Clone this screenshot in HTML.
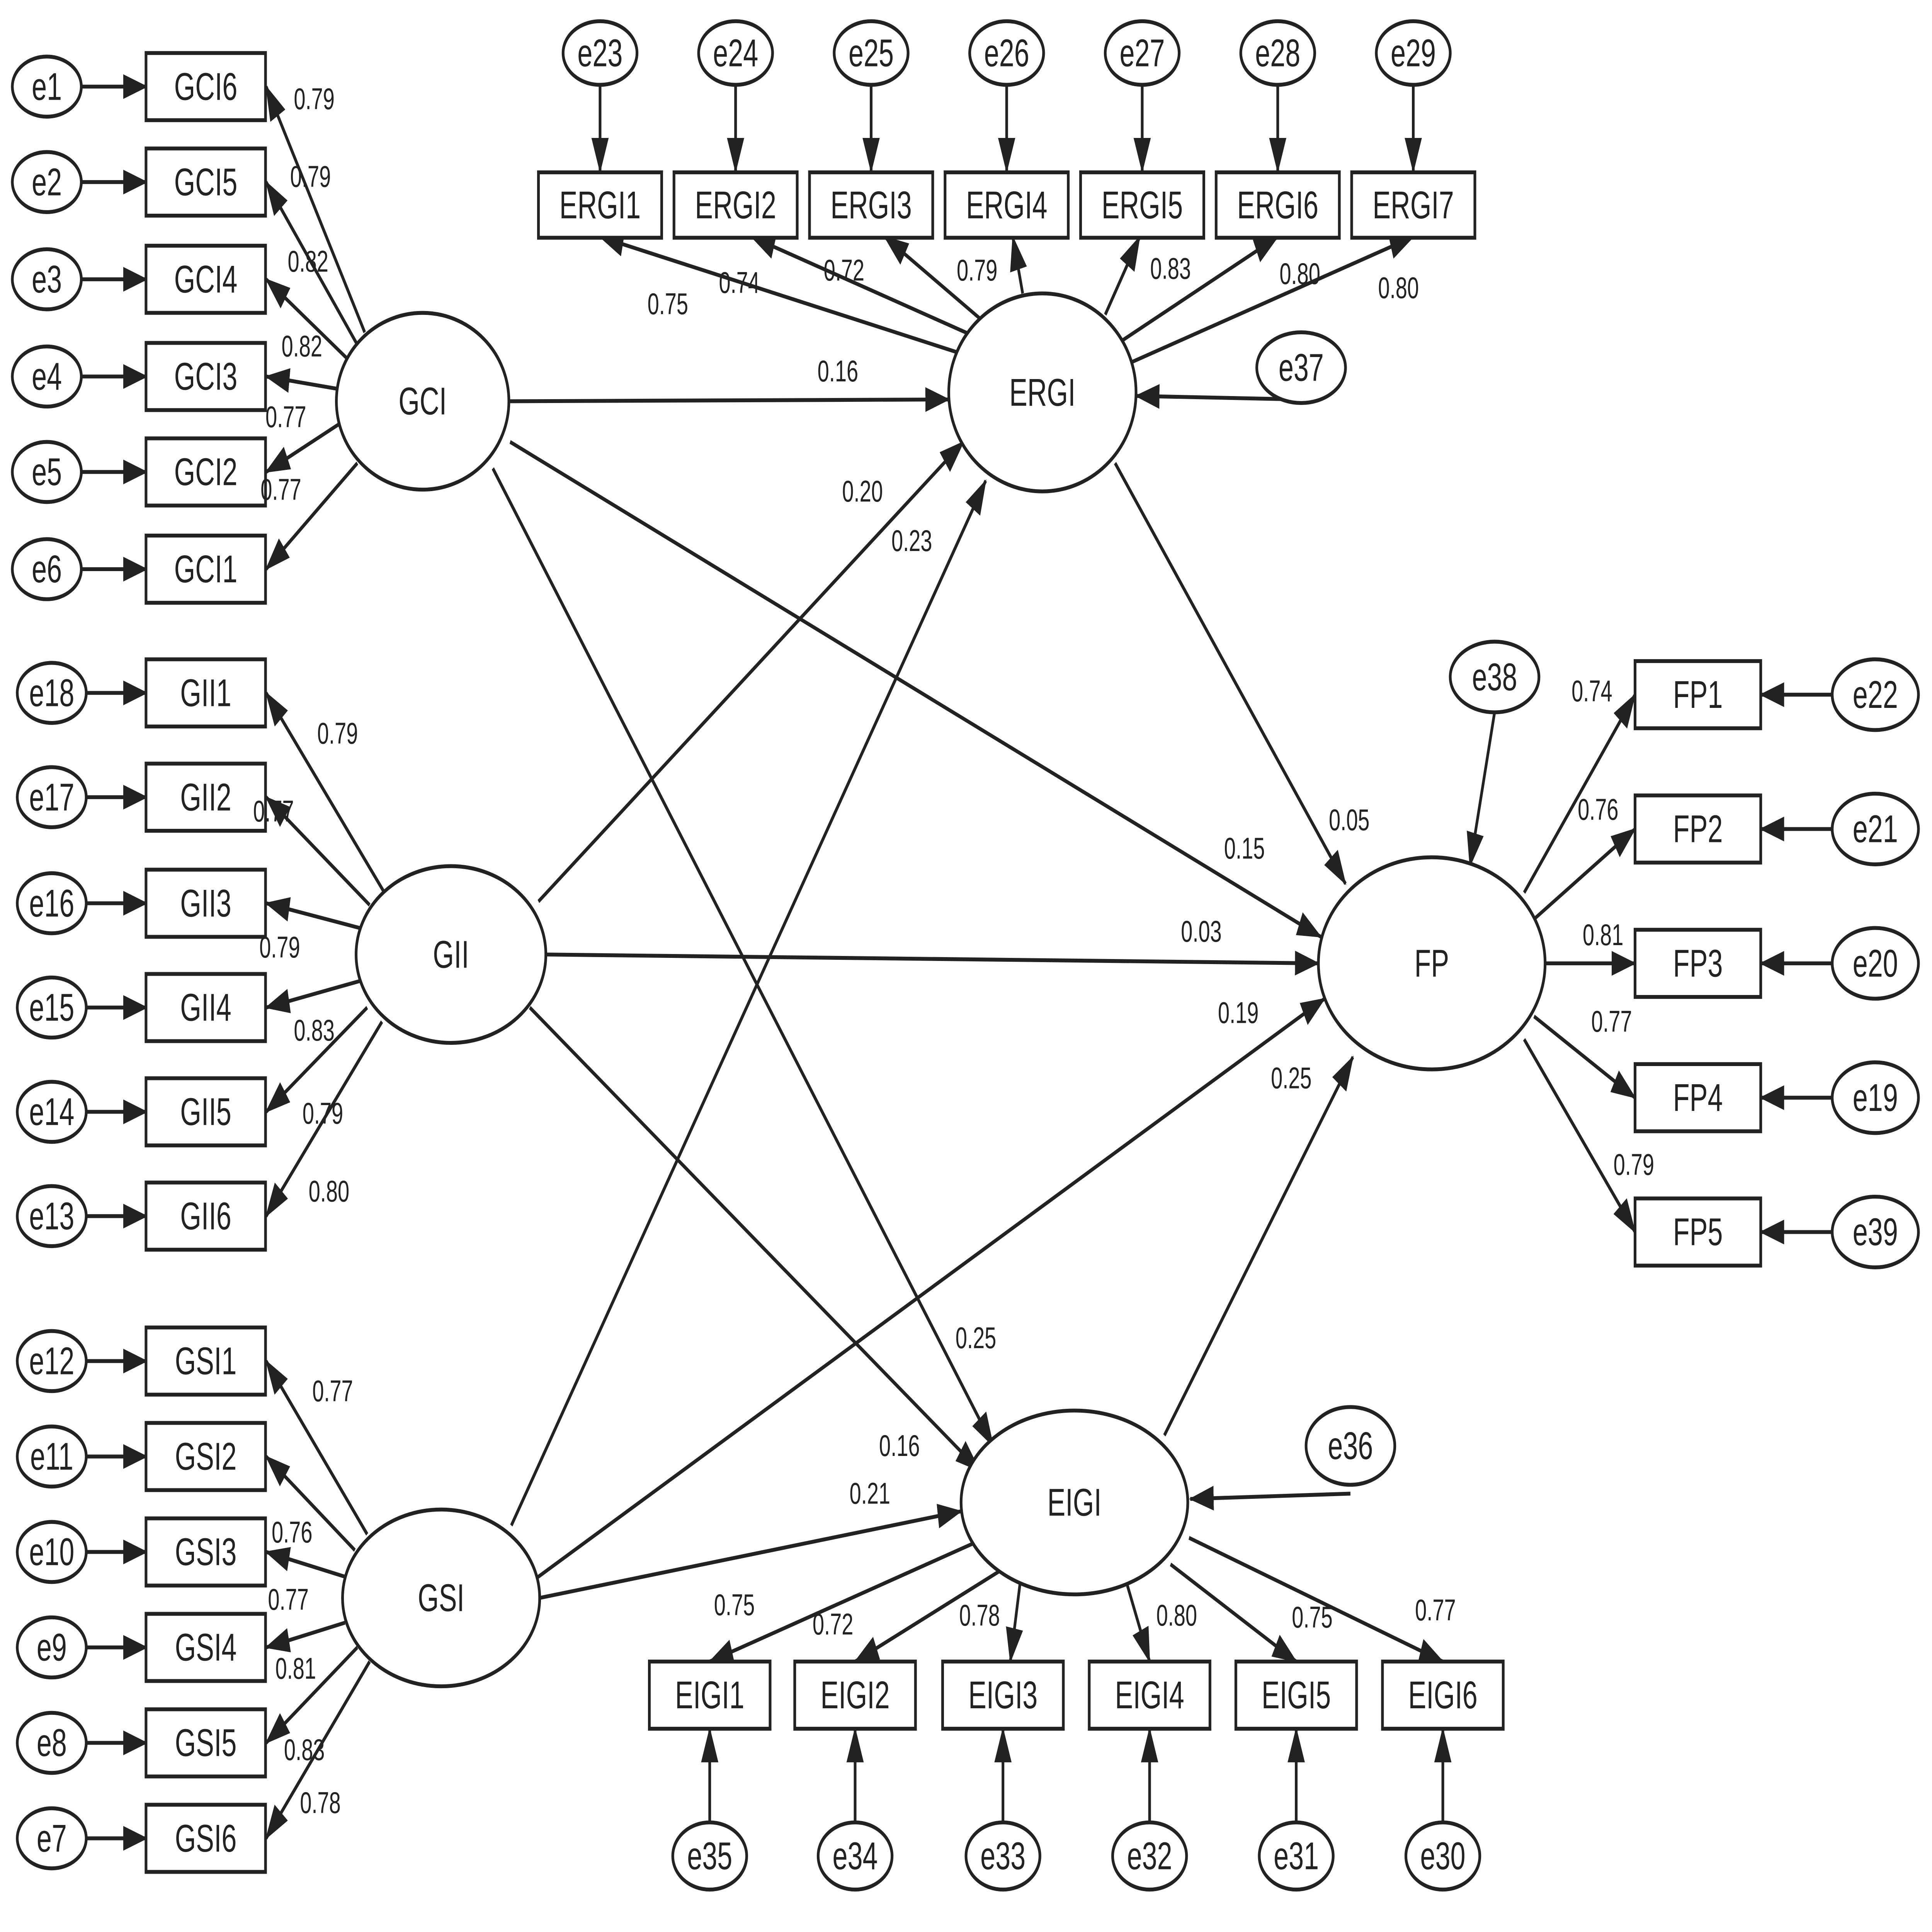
<!DOCTYPE html>
<html><head><meta charset="utf-8"><style>
html,body{margin:0;padding:0;background:#fff;overflow:hidden;width:100vw;height:100vh;}
svg{display:block;width:100vw;height:100vh;}
text{font-family:"Liberation Sans",Arial,sans-serif;fill:#222;}
.n{font-size:22px;text-anchor:middle;dominant-baseline:central;}
.l{font-size:17px;text-anchor:middle;dominant-baseline:central;}
</style></head><body>
<svg viewBox="0 0 1568 1093" preserveAspectRatio="none" xmlns="http://www.w3.org/2000/svg">
<defs><marker id="a" markerWidth="20" markerHeight="14" refX="19" refY="7" orient="auto" markerUnits="userSpaceOnUse"><path d="M0,0 L20,7 L0,14 z" fill="#222"/></marker></defs>
<g id="g" stroke="#222" stroke-width="2.2" fill="none"></g>
<g id="t"></g>
<script>
var g=document.getElementById('g'),t=document.getElementById('t'),NS="http://www.w3.org/2000/svg";
function el(p,n,a){var e=document.createElementNS(NS,n);for(var k in a)e.setAttribute(k,a[k]);p.appendChild(e);return e;}
function line(x1,y1,x2,y2){el(g,'line',{x1:x1,y1:y1,x2:x2,y2:y2,'marker-end':'url(#a)'});}
function ell(cx,cy,rx,ry,s){el(g,'ellipse',{cx:cx,cy:cy,rx:rx,ry:ry,fill:'#fff'});txt(cx,cy,s,'n');}
function box(cx,cy,w,h,s){el(g,'rect',{x:cx-w/2,y:cy-h/2,width:w,height:h,fill:'#fff'});txt(cx,cy,s,'n');}
function txt(x,y,s,c){var e=el(t,'text',{x:x,y:y,'class':c});e.textContent=s;}
function lab(x,y,s){txt(x,y,s,'l');}
[[414,227,770,226,680,210,'0.16'],[414,250,1072,530,1010,480,'0.15'],[400,265,806,818,792,757,'0.25'],
[437,510,782,250,700,278,'0.20'],[443,540,1070,545,975,527,'0.03'],[430,570,795,832,730,818,'0.16'],
[415,863,800,272,740,306,'0.23'],[435,893,1075,565,1005,573,'0.19'],[438,904,780,855,706,845,'0.21'],
[905,262,1092,500,1095,464,'0.05'],[945,812,1098,598,1048,610,'0.25']].forEach(function(a){line(a[0],a[1],a[2],a[3]);lab(a[4],a[5],a[6]);});
function left(names,ys,starts,labs,ens,ex){for(var i=0;i<6;i++){line(ex+28,ys[i],119,ys[i]);line(starts[i][0],starts[i][1],216,ys[i]);ell(ex,ys[i],28,17,ens[i]);box(167,ys[i],97,38,names[i]);lab(labs[i][0],labs[i][1],labs[i][2]);}}
left(['GCI6','GCI5','GCI4','GCI3','GCI2','GCI1'],[49,103,158,213,267,322],[[296,188],[290,195],[282,203],[274,220],[275,240],[290,262]],
[[255,56,'0.79'],[252,100,'0.79'],[250,148,'0.82'],[245,196,'0.82'],[232,236,'0.77'],[228,277,'0.77']],['e1','e2','e3','e4','e5','e6'],38);
left(['GII1','GII2','GII3','GII4','GII5','GII6'],[392,451,511,570,629,688],[[312,505],[300,512],[292,525],[292,555],[298,570],[310,578]],
[[274,415,'0.79'],[222,459,'0.77'],[227,536,'0.79'],[255,583,'0.83'],[262,630,'0.79'],[267,674,'0.80']],['e18','e17','e16','e15','e14','e13'],42);
left(['GSI1','GSI2','GSI3','GSI4','GSI5','GSI6'],[770,824,878,932,986,1040],[[298,868],[288,877],[280,892],[280,918],[290,932],[300,940]],
[[270,787,'0.77'],[237,867,'0.76'],[234,905,'0.77'],[240,944,'0.81'],[247,990,'0.83'],[260,1020,'0.78']],['e12','e11','e10','e9','e8','e7'],42);
var ex=[487,597,707,817,927,1037,1147],es=[[780,200],[790,190],[800,183],[830,166],[897,178],[910,193],[918,205]],ee=[[487,134],[610,134],[718,134],[822,134],[925,134],[1037,134],[1147,134]],
el2=[[542,172,'0.75'],[600,160,'0.74'],[685,153,'0.72'],[793,153,'0.79'],[950,152,'0.83'],[1055,155,'0.80'],[1135,163,'0.80']];
for(var i=0;i<7;i++){line(ex[i],48,ex[i],97);line(es[i][0],es[i][1],ee[i][0],ee[i][1]);ell(ex[i],30,30,18,'e'+(23+i));box(ex[i],116,100,37,'ERGI'+(i+1));lab(el2[i][0],el2[i][1],el2[i][2]);}
line(1056,226,922,224);ell(1056,208,36,20,'e37');
var fy=[393,469,545,621,697],fs=[[1237,505],[1245,520],[1255,545],[1245,575],[1237,588]],fl=[[1292,391,'0.74'],[1297,458,'0.76'],[1301,529,'0.81'],[1308,578,'0.77'],[1326,659,'0.79']],fe=['e22','e21','e20','e19','e39'];
for(var i=0;i<5;i++){line(fs[i][0],fs[i][1],1327,fy[i]);line(1487,fy[i],1429,fy[i]);ell(1522,fy[i],35,20,fe[i]);box(1378,fy[i],102,38,'FP'+(i+1));lab(fl[i][0],fl[i][1],fl[i][2]);}
line(1213,403,1193,490);ell(1213,383,36,20,'e38');
var ix=[576,694,814,933,1052,1171],is=[[800,870],[820,885],[828,895],[915,897],[950,885],[965,870]],ie=[[576,940],[694,940],[820,940],[933,940],[1052,940],[1171,940]],
il=[[596,908,'0.75'],[676,919,'0.72'],[795,914,'0.78'],[955,914,'0.80'],[1065,915,'0.75'],[1165,911,'0.77']];
for(var i=0;i<6;i++){line(is[i][0],is[i][1],ie[i][0],ie[i][1]);line(ix[i],1031,ix[i],978);ell(ix[i],1050,30,19,'e'+(35-i));box(ix[i],959,98,38,'EIGI'+(i+1));lab(il[i][0],il[i][1],il[i][2]);}
line(1096,845,966,848);ell(1096,818,36,22,'e36');
ell(343,227,70,50,'GCI');ell(366,540,77,50,'GII');ell(358,904,80,50,'GSI');
ell(846,222,76,56,'ERGI');ell(1162,545,92,60,'FP');ell(872,850,92,52,'EIGI');
</script>
</svg>
</body></html>
